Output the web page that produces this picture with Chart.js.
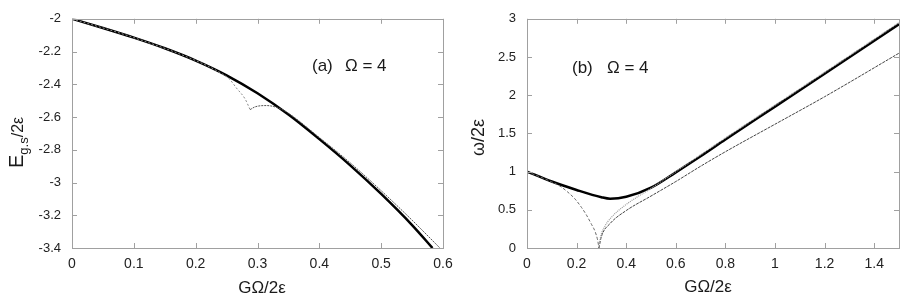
<!DOCTYPE html>
<html lang="en">
<head>
    <meta charset="UTF-8">
    <title>Pairing ground state and gap, Omega = 4</title>
    <script src="https://cdn.jsdelivr.net/npm/chart.js@4.4.1/dist/chart.umd.min.js"></script>
    <style>
        body { margin: 0; overflow: hidden; background: #fff; }
        #wrap { position: relative; width: 900px; height: 304px; }
        canvas { position: absolute; top: 0; }
    </style>
</head>
<body>
<div id="wrap">
    <canvas id="chart_energy" width="470" height="304" style="left:0"></canvas>
    <canvas id="chart_gap" width="452" height="304" style="left:450px"></canvas>
</div>

<script>
    // panel (a): ground state energy E_gs/2eps vs G*Omega/2eps
    const exactX = [0, 0.05, 0.1, 0.15, 0.2, 0.25, 0.3, 0.35, 0.4, 0.45, 0.5, 0.55, 0.583];
    const exactE = [-2, -2.056, -2.115, -2.18, -2.255, -2.345, -2.455, -2.585, -2.735, -2.895, -3.07, -3.26, -3.4];
    const normalX = [0, 0.1, 0.2, 0.24, 0.255, 0.266, 0.28, 0.288];
    const normalE = [-2, -2.115, -2.255, -2.33, -2.37, -2.423, -2.49, -2.555];
    const pairedX = [0.288, 0.296, 0.315, 0.33, 0.345, 0.4, 0.45, 0.5, 0.55, 0.595];
    const pairedE = [-2.555, -2.538, -2.53, -2.54, -2.565, -2.725, -2.88, -3.05, -3.23, -3.4];
    const ticksAX = [0, 0.1, 0.2, 0.3, 0.4, 0.5, 0.6];
    const ticksAY = [-2, -2.2, -2.4, -2.6, -2.8, -3, -3.2, -3.4];

    // panel (b): excitation energy omega/2eps
    const gapX = [0, 0.1, 0.2, 0.3, 0.335, 0.4, 0.5, 0.6, 0.7, 0.8, 1.0, 1.2, 1.5];
    const gapW = [1, 0.87, 0.76, 0.665, 0.645, 0.67, 0.79, 0.99, 1.2, 1.42, 1.85, 2.28, 2.93];
    const downX = [0, 0.1, 0.133, 0.165, 0.194, 0.22, 0.24, 0.26, 0.274, 0.285, 0.29];
    const downW = [1, 0.865, 0.81, 0.73, 0.64, 0.53, 0.43, 0.31, 0.22, 0.1, 0];
    const upperX = [0.29, 0.295, 0.31, 0.34, 0.4, 0.5, 0.6, 0.7, 0.8, 1.0, 1.2, 1.5];
    const upperW = [0, 0.12, 0.26, 0.4, 0.57, 0.78, 1.0, 1.22, 1.44, 1.87, 2.3, 2.95];
    const lowerX = [0.29, 0.3, 0.335, 0.4, 0.5, 0.6, 0.7, 0.8, 1.0, 1.2, 1.5];
    const lowerW = [0, 0.15, 0.32, 0.49, 0.68, 0.87, 1.07, 1.26, 1.62, 1.98, 2.55];
    const ticksBX = [0, 0.2, 0.4, 0.6, 0.8, 1, 1.2, 1.4];
    const ticksBY = [0, 0.5, 1, 1.5, 2, 2.5, 3];

    const FONT = "'Liberation Sans', Arial, sans-serif";

    function pts(xs, ys) {
        return xs.map((x, i) => ({x: x, y: ys[i]}));
    }

    function curve(xs, ys, color, width, dash) {
        return {
            data: pts(xs, ys),
            borderColor: color,
            borderWidth: width,
            borderDash: dash || [],
            pointRadius: 0,
            cubicInterpolationMode: 'monotone',
            fill: false,
        };
    }

    // box round the plot plus short inward ticks on all four sides
    const framePlugin = {
        id: 'frame',
        afterDraw(chart) {
            const ctx = chart.ctx, a = chart.chartArea;
            const sx = chart.scales.x, sy = chart.scales.y;
            ctx.save();
            ctx.strokeStyle = '#a0a0a0';
            ctx.lineWidth = 1;
            ctx.strokeRect(Math.round(a.left) + 0.5, Math.round(a.top) + 0.5,
                Math.round(a.right - a.left), Math.round(a.bottom - a.top));
            ctx.beginPath();
            sx.ticks.forEach(t => {
                const p = Math.round(sx.getPixelForValue(t.value)) + 0.5;
                ctx.moveTo(p, a.bottom); ctx.lineTo(p, a.bottom - 5);
                ctx.moveTo(p, a.top); ctx.lineTo(p, a.top + 5);
            });
            sy.ticks.forEach(t => {
                const p = Math.round(sy.getPixelForValue(t.value)) + 0.5;
                ctx.moveTo(a.left, p); ctx.lineTo(a.left + 5, p);
                ctx.moveTo(a.right, p); ctx.lineTo(a.right - 5, p);
            });
            ctx.stroke();
            ctx.restore();
        }
    };

    // titles and the panel label, drawn as text on the canvas
    const labelPlugin = {
        id: 'labels',
        afterDraw(chart, args, opts) {
            const ctx = chart.ctx;
            ctx.save();
            ctx.fillStyle = '#1a1a1a';
            ctx.textBaseline = 'alphabetic';
            opts.draw(ctx);
            ctx.restore();
        }
    };

    function scales(tx, ty, minX, maxX, minY, maxY, yWidth) {
        return {
            x: {
                type: 'linear', min: minX, max: maxX,
                afterBuildTicks: s => { s.ticks = tx.map(v => ({value: v})); },
                afterFit: s => { s.height = 56; },
                grid: {display: false, drawTicks: false},
                border: {display: false},
                ticks: {color: '#222', font: {family: FONT, size: 14}, padding: 8, maxRotation: 0,
                    callback: v => String(v)},
            },
            y: {
                type: 'linear', min: minY, max: maxY,
                afterBuildTicks: s => { s.ticks = ty.map(v => ({value: v})); },
                afterFit: s => { s.width = yWidth; },
                grid: {display: false, drawTicks: false},
                border: {display: false},
                ticks: {color: '#222', font: {family: FONT, size: 13}, padding: 11,
                    callback: v => String(v)},
            },
        };
    }

    new Chart(document.getElementById('chart_energy'), {
        type: 'line',
        data: {
            datasets: [
                curve(normalX, normalE, '#8a8a8a', 1, [2, 2]),
                curve(pairedX, pairedE, '#555', 1, [2, 1]),
                curve(exactX, exactE, '#000', 2.5),
            ]
        },
        options: {
            responsive: false,
            animation: false,
            devicePixelRatio: 1,
            layout: {padding: {left: 0, right: 27, top: 12, bottom: 0}},
            scales: scales(ticksAX, ticksAY, 0, 0.6, -3.4, -2, 72),
            plugins: {
                legend: {display: false},
                tooltip: {enabled: false},
                labels: {
                    draw: ctx => {
                        ctx.font = '17px ' + FONT;
                        ctx.fillText('(a)', 312, 71);
                        ctx.fillText('\u03A9 = 4', 345, 71);
                        ctx.textAlign = 'center';
                        ctx.fillText('G\u03A9/2\u03B5', 262, 293);
                        ctx.textAlign = 'left';
                        ctx.translate(23, 168);
                        ctx.rotate(-Math.PI / 2);
                        ctx.font = '20px ' + FONT;
                        ctx.fillText('E', 0, 0);
                        let w = ctx.measureText('E').width;
                        ctx.font = '13px ' + FONT;
                        ctx.fillText('g.s', w, 5);
                        w += ctx.measureText('g.s').width;
                        ctx.font = '16px ' + FONT;
                        ctx.fillText('/2\u03B5', w, 0);
                    }
                },
            },
        },
        plugins: [framePlugin, labelPlugin],
    });

    new Chart(document.getElementById('chart_gap'), {
        type: 'line',
        data: {
            datasets: [
                curve(downX, downW, '#6a6a6a', 1, [3, 2]),
                curve(upperX, upperW, '#9a9a9a', 1.2, [1, 1]),
                curve(lowerX, lowerW, '#444', 1, [3, 1]),
                curve(gapX, gapW, '#000', 2.5),
            ]
        },
        options: {
            responsive: false,
            animation: false,
            devicePixelRatio: 1,
            layout: {padding: {left: 0, right: 3, top: 11, bottom: 0}},
            scales: scales(ticksBX, ticksBY, 0, 1.5, 0, 3, 77),
            plugins: {
                legend: {display: false},
                tooltip: {enabled: false},
                labels: {
                    draw: ctx => {
                        ctx.font = '17px ' + FONT;
                        ctx.fillText('(b)', 122, 73);
                        ctx.fillText('\u03A9 = 4', 157, 73);
                        ctx.textAlign = 'center';
                        ctx.fillText('G\u03A9/2\u03B5', 258, 292);
                        ctx.textAlign = 'left';
                        ctx.translate(34, 156);
                        ctx.rotate(-Math.PI / 2);
                        ctx.font = '18px ' + FONT;
                        ctx.fillText('\u03C9/2\u03B5', 0, 0);
                    }
                },
            },
        },
        plugins: [framePlugin, labelPlugin],
    });
</script>
</body>
</html>
